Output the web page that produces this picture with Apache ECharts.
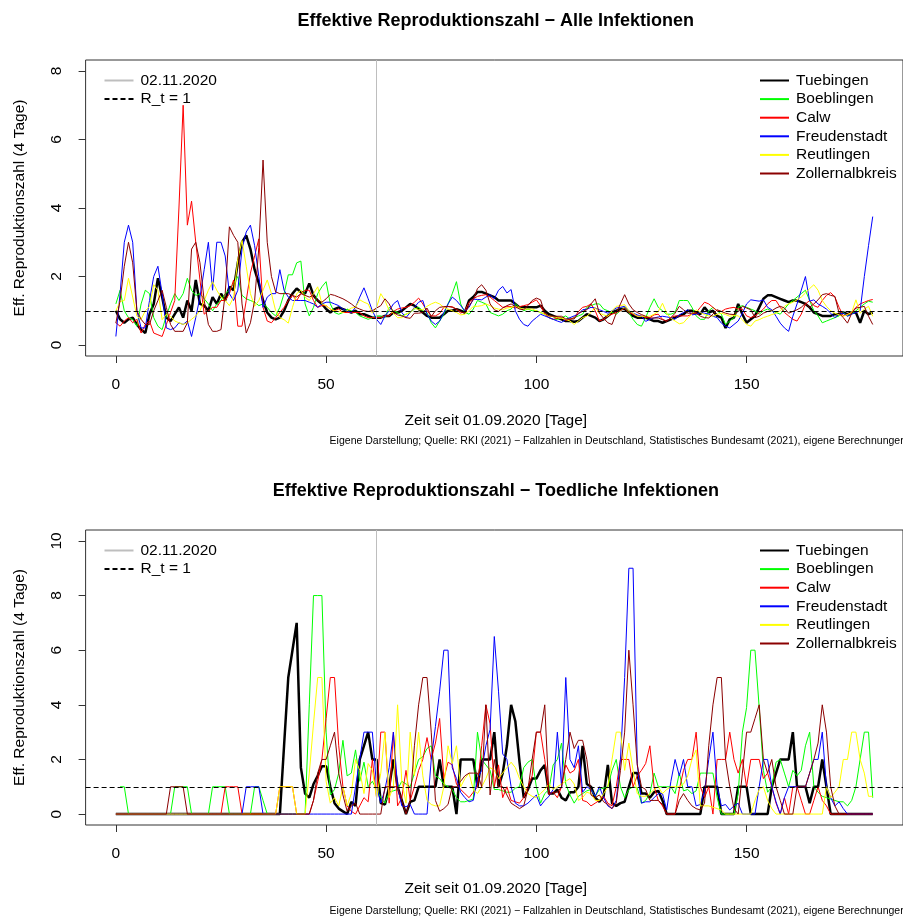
<!DOCTYPE html>
<html><head><meta charset="utf-8">
<script src="https://cdn.jsdelivr.net/npm/echarts@6/dist/echarts.min.js"></script>
<style>html,body{margin:0;padding:0;background:#fff}#c{width:903px;height:917px}</style>
</head><body><div id="c"></div>
<script>
// ---------- data ----------
const regions = ['Tuebingen','Boeblingen','Calw','Freudenstadt','Reutlingen','Zollernalbkreis'];
const regionColors = ['#000000','#00FF00','#FF0000','#0000FF','#FFFF00','#8B0000'];
const regionWidths = [2.5,1,1,1,1,1];
const xTicks = [0,50,100,150];
const yTicksTop = [0,2,4,6,8];
const yTicksBottom = [0,2,4,6,8,10];
const markerDay = 62;   // 02.11.2020
const markerLabel = '02.11.2020';
const refLabel = 'R_t = 1';
const refValue = 1;

// Top panel: all infections (day 0..180)
const allTuebingen = [
1.0,0.75,0.65,0.75,0.8,0.6,0.45,0.35,0.9,1.2,
1.95,1.4,0.8,0.7,0.9,1.1,0.8,1.3,1.0,1.9,
1.2,1.15,1.0,1.4,1.2,1.5,1.3,1.7,1.6,2.4,
3.0,3.2,2.8,2.2,1.8,1.3,0.95,0.8,0.75,0.8,
1.0,1.3,1.5,1.65,1.55,1.5,1.8,1.45,1.3,1.2,
1.05,0.95,1.05,1.1,1.05,1.0,0.95,1.0,0.9,0.9,
0.85,0.8,0.8,0.8,0.85,0.85,0.95,0.95,1.0,1.1,
1.2,1.15,1.05,0.95,0.85,0.8,0.8,0.8,0.9,1.0,
1.0,1.05,1.0,0.95,1.3,1.4,1.55,1.55,1.5,1.45,
1.4,1.3,1.3,1.3,1.3,1.2,1.1,1.1,1.1,1.1,
1.1,1.15,1.0,0.9,0.85,0.8,0.75,0.7,0.7,0.68,
0.7,0.8,0.9,0.85,0.8,0.7,0.75,0.85,0.95,1.0,
1.05,1.05,0.95,0.85,0.8,0.8,0.8,0.75,0.7,0.7,
0.65,0.7,0.75,0.8,0.85,0.9,1.0,1.0,0.95,0.9,
1.1,0.95,1.0,0.85,0.8,0.5,0.75,0.8,1.2,0.9,
0.65,0.75,0.85,1.1,1.35,1.45,1.45,1.4,1.35,1.3,
1.25,1.3,1.3,1.25,1.2,1.1,0.95,0.9,0.85,0.85,
0.85,0.9,0.9,0.95,0.9,0.95,0.95,0.65,1.0,0.9,
0.95];
const allBoeblingen = [
1.2,1.6,1.0,0.8,0.75,0.55,1.2,1.6,1.5,0.8,
0.55,0.45,0.85,1.2,1.5,1.3,1.5,1.95,1.6,1.45,
1.5,1.35,1.2,1.0,1.2,1.3,1.5,1.6,1.8,2.0,
1.45,1.35,1.3,1.25,1.15,1.2,1.1,0.95,0.85,1.1,
1.5,2.05,2.05,2.4,2.45,1.2,0.85,1.1,1.5,1.7,
1.85,1.2,0.95,0.9,0.95,1.05,1.0,0.95,0.85,0.8,
0.75,0.8,0.85,0.85,0.8,1.1,1.0,0.95,0.85,0.9,
0.95,1.05,1.1,1.0,0.95,0.65,0.5,0.7,0.9,1.2,
1.5,1.85,1.2,0.95,0.9,1.05,1.3,1.25,1.2,0.95,
0.9,0.85,0.9,1.0,1.05,1.2,1.1,1.0,1.05,1.0,
1.0,0.95,0.9,0.8,0.75,0.75,0.8,0.85,0.75,0.8,
0.85,0.9,1.1,1.15,1.2,1.2,1.05,1.0,0.95,0.9,
1.0,1.1,0.95,0.75,0.6,0.55,0.8,1.1,1.35,1.1,
1.0,0.9,0.9,0.95,1.3,1.3,1.3,1.1,0.85,0.75,
0.75,1.0,1.1,1.0,0.9,0.6,0.7,0.8,1.1,1.15,
1.1,1.05,1.0,0.9,1.0,1.05,1.0,0.95,0.9,1.05,
1.2,1.3,1.4,1.5,1.6,1.3,1.0,0.85,0.65,0.7,
0.75,0.8,0.85,0.95,0.85,0.9,1.0,1.1,1.2,1.28,
1.25];
const allCalw = [
0.65,0.55,0.7,0.8,0.65,0.75,0.35,0.6,0.7,0.35,
0.3,0.25,0.6,0.95,1.3,4.0,7.0,3.5,4.2,3.0,
1.9,0.9,1.0,1.1,1.1,1.3,1.3,1.5,1.9,0.55,
0.55,1.3,2.1,2.6,3.1,1.1,0.7,0.65,0.8,0.95,
1.1,1.3,1.45,1.3,1.5,1.6,1.6,1.3,1.1,1.15,
1.15,1.05,1.0,1.05,0.95,0.95,0.95,0.95,0.95,0.85,
0.8,0.8,0.8,0.8,0.85,0.85,0.98,1.05,1.08,1.1,
1.15,1.25,1.37,1.2,1.0,0.85,0.85,0.92,1.1,1.12,
1.12,1.05,0.93,1.0,1.25,1.35,1.42,1.45,1.47,1.4,
1.3,1.2,1.1,1.12,1.12,1.08,1.12,1.15,1.18,1.25,
1.32,1.15,0.9,0.8,0.75,0.78,0.8,0.72,0.75,0.8,
0.98,1.1,1.13,1.2,1.0,0.7,0.75,0.85,0.9,0.95,
1.0,1.08,0.95,0.9,0.85,0.85,0.8,0.8,0.88,0.9,
0.75,0.7,0.8,0.85,0.85,0.85,0.85,0.9,0.95,1.1,
1.25,1.2,1.1,1.0,0.98,1.05,1.08,1.1,1.05,1.05,
0.85,0.8,0.85,0.95,1.05,1.2,1.3,1.3,1.1,0.95,
0.85,0.75,0.7,0.9,1.2,1.3,1.15,1.1,1.3,1.45,
1.53,1.4,1.1,0.85,0.9,0.95,1.1,1.2,1.25,1.3,
1.33];
const allFreudenstadt = [
0.25,1.5,3.0,3.5,3.0,1.0,0.5,0.5,1.3,2.0,
2.3,1.5,0.5,0.45,0.5,0.65,0.6,0.7,0.25,0.8,
1.4,2.2,3.0,1.6,3.0,3.0,2.6,1.5,1.3,1.6,
2.8,3.3,3.5,2.9,2.0,1.1,1.4,1.5,1.5,2.2,
1.6,1.4,1.3,1.3,1.3,1.3,1.25,1.2,1.1,1.2,
1.25,1.25,1.2,1.15,1.05,1.0,0.95,1.1,1.4,1.67,
1.35,1.0,0.75,0.6,0.85,1.0,1.2,1.3,0.95,0.8,
0.95,1.1,1.25,1.3,0.9,0.7,0.6,0.7,0.95,1.2,
1.4,1.3,1.15,1.0,1.1,1.34,1.33,1.32,1.4,1.47,
1.35,1.6,1.71,1.52,1.62,1.0,0.75,0.6,0.55,0.7,
0.8,0.9,0.85,0.8,0.75,0.7,0.66,0.75,0.8,0.85,
0.9,1.03,1.05,1.1,1.08,1.03,0.98,0.93,1.0,1.08,
1.1,1.13,1.0,0.93,0.88,0.84,0.69,0.75,0.79,0.82,
0.84,0.82,0.8,0.75,0.88,0.95,1.03,0.88,0.9,0.95,
0.93,0.9,0.84,0.8,0.64,0.55,0.5,0.6,0.7,0.93,
1.2,1.32,1.3,1.28,1.32,1.1,1.03,0.84,0.64,0.5,
0.4,0.84,1.2,1.6,2.0,1.28,1.32,1.2,1.13,1.05,
0.93,0.8,0.9,0.93,0.84,0.9,0.95,1.0,2.0,2.9,
3.75];
const allReutlingen = [
1.0,1.27,1.3,1.95,1.4,0.84,0.75,1.0,1.13,1.76,
1.6,0.74,0.9,0.84,0.7,0.65,0.6,0.65,0.75,0.85,
1.0,1.3,1.6,1.85,1.6,1.4,1.3,1.15,1.4,2.5,
3.05,2.3,1.5,1.13,1.3,1.6,1.9,1.5,1.0,0.8,
0.74,0.64,1.1,1.5,1.6,1.4,1.3,1.5,1.7,1.2,
1.15,1.05,1.0,0.98,0.95,1.0,1.08,1.1,1.32,1.25,
1.2,0.93,1.1,1.5,1.3,1.0,0.93,0.8,0.8,0.9,
0.95,1.08,1.03,1.03,1.13,1.2,1.25,1.2,1.1,1.05,
1.0,0.95,0.88,0.9,1.0,1.13,1.13,1.15,1.2,1.15,
1.08,1.05,1.03,1.08,1.1,1.13,1.08,1.05,1.05,1.05,
1.0,0.95,0.9,0.85,0.83,0.8,0.78,0.75,0.7,0.6,
0.7,0.8,0.84,0.95,1.1,0.93,0.88,0.84,1.0,1.13,
1.15,1.18,1.0,0.93,0.84,0.84,0.84,0.84,0.9,0.98,
1.22,0.93,0.78,0.7,0.62,0.65,0.79,0.9,1.03,0.95,
0.89,0.85,0.84,0.9,0.93,0.89,0.84,0.86,0.85,0.74,
0.6,0.55,0.7,0.74,0.8,0.84,0.89,0.93,1.0,1.13,
1.2,1.25,1.32,1.4,1.52,1.65,1.76,1.6,1.3,1.13,
1.0,0.93,0.88,0.84,0.89,0.95,1.32,0.93,1.05,1.13,
0.84];
const allZollernalbkreis = [
0.64,1.3,2.3,3.0,2.4,1.0,0.75,0.6,0.6,1.0,
1.3,1.6,1.1,0.6,0.4,0.4,0.4,0.65,2.8,3.0,
2.4,1.3,0.6,0.4,0.4,0.45,1.5,3.45,3.2,3.0,
1.2,0.35,0.65,1.3,2.85,5.4,3.0,2.0,1.55,1.5,
1.5,1.5,1.45,1.4,1.5,1.45,1.4,1.45,1.3,1.25,
1.35,1.48,1.45,1.4,1.35,1.28,1.2,1.1,1.05,1.0,
0.98,1.0,1.08,1.15,1.35,1.2,0.95,0.88,0.85,0.8,
0.78,0.93,0.93,0.95,1.08,0.83,1.0,1.1,1.12,1.13,
1.1,1.05,0.98,0.93,1.15,1.32,1.65,1.76,1.6,1.2,
1.03,0.98,1.08,1.15,1.2,1.12,1.05,1.03,1.15,1.3,
1.37,1.32,0.93,0.85,0.84,0.84,0.84,0.76,0.76,0.76,
0.93,0.98,1.03,1.2,1.35,0.93,0.78,0.65,0.6,0.93,
1.2,1.47,1.2,1.03,0.95,0.89,0.84,0.79,0.79,0.79,
0.74,0.69,0.8,0.93,1.13,1.03,0.93,0.93,0.93,0.84,
0.8,0.79,0.9,1.03,0.98,0.93,0.9,0.89,0.98,1.13,
1.08,1.03,0.8,0.84,0.93,0.98,1.0,1.08,1.13,1.08,
0.93,0.98,1.03,1.1,1.22,1.1,1.2,1.32,1.47,1.5,
1.45,1.42,0.93,0.8,0.64,0.93,1.08,1.1,1.13,0.84,
0.6];

// Bottom panel: fatal infections (day 0..180)
const fatTuebingen = [
0,0,0,0,0,0,0,0,0,0,
0,0,0,0,0,0,0,0,0,0,
0,0,0,0,0,0,0,0,0,0,
0,0,0,0,0,0,0,0,0,0,
2.5,5.0,6.0,7.0,1.7,0.75,0.6,1.1,1.4,1.75,
1.75,1.0,0.4,0.2,0.1,0,0.45,0.3,2.0,2.5,
3.0,2.0,2.0,0.4,0.35,1.0,2.0,1.0,0.5,0,
0.45,0.5,1.0,1.0,1.0,1.0,1.0,2.0,1.0,1.0,
1.0,0,2.0,2.0,2.0,2.0,1.0,2.0,2.0,2.0,
3.0,1.0,1.5,2.5,4.0,3.4,1.9,0.6,0.9,1.3,
1.3,1.6,1.8,0.75,0.75,0.9,0.6,0.5,0.8,0.8,
1.0,2.5,1.1,1.0,0.6,0.45,0.65,1.8,0.4,0.3,
0.4,0.45,1.0,1.5,1.5,0.75,0.75,0.6,0.8,0.85,
0.5,0,0,0,0,0,0,0,0,0,
1,1,1,1,0,0,0,0,1,1,
1,0,0,0,0,0,1,1.5,2,2,
2,3,1,1,1,0.4,1,1,2,1,
0,0,0,0,0,0,0,0,0,0,
0];
const fatBoeblingen = [
null,1,1,0,0,0,0,0,0,0,
0,0,0,0,1,1,1,1,0,0,
0,0,0,1,1,1,1,0,0,0,
0,0,0,1,1,0.5,0,0,0,0,
0,0,0,0,0,0,4,8,8,8,
3.0,0.7,0.9,1.5,2.7,1.4,1.5,2.35,1.2,1.9,
1.0,1.2,0.9,0.6,0.4,0.8,0.85,0.9,1.2,1.1,
1.0,1.5,2.0,2.1,2.4,2.5,1.4,1.3,1.1,1.0,
0.9,0.6,0.45,0.45,0.5,0.55,3.0,2.0,1.8,1.6,
0.9,0.9,0.85,0.8,0.8,0.95,1.0,1.7,1.9,2.0,
1.0,0.4,0.75,0.9,1.8,2.0,2.6,1.1,0.7,0.4,
0.65,0.75,0.85,0.9,0.65,0.9,0.95,1.0,1.6,2.0,
1.0,0.6,0.9,1.0,0.95,0.4,0.5,0.75,1.5,1.0,
1.0,1.0,1.0,0.75,1.5,0.85,0.9,0.75,0.85,1.5,
1.5,1.5,1.5,0.6,0,0,0,0,0.75,3.0,
3.9,6.0,6.0,3.9,1.6,0.8,1.0,1.9,2.0,1.5,
1.0,1.6,1.4,1.6,2.5,3.0,1.0,0.8,0.65,0.6,
0.55,0.5,0.45,0.45,0.3,0.5,1.0,2.0,3.0,3.0,
0.6];
const fatCalw = [
0,0,0,0,0,0,0,0,0,0,
0,0,0,0,0,0,0,0,0,0,
0,0,0,0,0,0,1,1,1,1,
0,0,0,0,0,0,0,0,0,1,
1,1,1,0,0,0,0,0.5,1.2,2.0,
3.5,5,5,2.5,1.0,0.3,0.1,0,0.3,0.6,
0.45,2.0,0.6,3.0,3.0,0.4,3.0,0.3,0.6,1.6,
0.5,1.0,1.6,2.0,2.8,2.0,2.6,3.5,1.3,1.9,
1.8,1.1,0.9,0.75,0.6,0.8,1.0,2.5,4.0,3.3,
1.0,1.8,0.6,1.0,0.5,0.45,0.4,0.6,1.0,1.4,
3.0,3.0,2.0,0.75,0.8,0.6,1.0,1.8,1.5,1.6,
2.0,0.5,0.45,0.3,0.4,0.5,0.65,0.4,0.3,1.0,
2.0,2.0,2.0,1.0,1.4,1.6,1.85,2.5,1.0,0.5,
0.3,0,0,0,0.9,1.6,2.0,2.0,3.0,1.0,
0.6,1.0,0,2.0,2.0,2.0,3.0,2.0,1.5,2.0,
1.0,2.0,2.0,2.0,1.3,1.5,1.0,0.4,0,0.6,
0,1.0,1.0,0.5,0,0,0.5,1.0,0.5,0.3,
0,0,0,0,0,0,0,0,0,0,
0];
const fatFreudenstadt = [
0,0,0,0,0,0,0,0,0,0,
0,0,0,0,0,0,0,0,0,0,
0,0,0,0,0,0,0,0,0,0,
0,1,1,1,1,0,0,0,0,0,
0,0,0,0,0,0,0,0,0,0,
0,0,0,0,0,0,0,1,2.0,3,
3,3,1.0,0.4,0.9,1.7,3.0,1.0,0.3,0.27,
0.35,0,0,0,0,2.0,3.2,4.5,6.0,6.0,
1.7,1.3,0.8,0.6,0.45,0.5,1.3,1.6,2.5,3.1,
6.5,4.5,2.2,2.0,1.0,0.4,0.3,0.3,0.4,0.55,
0.7,0.3,0.5,0.65,0.9,3.0,1.0,5.0,2.0,1.7,
2.5,0.8,1.0,0.9,0.65,1.0,0.6,0.3,0.2,0.5,
2.0,5.0,9.0,9.0,1.85,0.4,0.45,0.45,0.6,0.75,
0.75,0.15,1.2,2.0,1.4,2.0,1.0,1.0,0.3,0.35,
0.85,2.0,3.0,1.0,0.3,0.35,0.15,0.3,0.4,0,
0,0,0,1.0,2.0,2.0,1.0,0.45,0,0.6,
1.0,1.0,1.0,1.0,1.0,1.5,2.0,2.0,3.0,1.0,
0.6,0.3,0.45,0.2,0,0,0,0,0,0,
0];
const fatReutlingen = [
0,0,0,0,0,0,0,0,0,0,
0,0,0,0,0,0,0,0,0,0,
0,0,0,0,0,0,0,0,0,0,
0,0,0,0,0,0,0,0,0,1,
1,1,1,0,0,0,1.5,3.3,5,5,
1.2,0.4,0.6,0.3,1.0,0.3,0.75,2.0,1.6,0.75,
1.85,1.6,0.6,1.5,3.0,0.6,1.0,4.0,1.2,0.4,
3.0,1.4,3.0,1.4,0.5,0.35,0.3,0.3,1.0,2.5,
1.85,2.5,1.0,1.3,1.5,0.9,0.75,1.0,1.3,1.7,
1.6,1.3,1.5,1.7,1.9,1.7,1.3,1.0,0.75,0.65,
0.6,0.75,0.9,1.1,0.9,1.0,1.1,1.2,1.3,1.1,
0.5,0.6,0.8,0.75,0.5,0.5,0.75,1.0,2.0,3.0,
3.0,1.6,2.6,1.6,0.75,0.65,0.65,0.75,0.9,1.0,
0.75,0.9,1.0,1.0,1.0,1.1,1.4,2.0,2.35,0.3,
0.3,0.3,0.25,0.2,0.15,0,0,0,0,0,
0,0,0.5,0.9,1.0,0.5,0.2,0,0,0,
0,0,0,0,0,0,0,0,0,1.0,
0.6,0.8,1.0,2.0,2.0,3.0,3.0,2.0,1.5,0.65,
0.65];
const fatZollernalbkreis = [
0,0,0,0,0,0,0,0,0,0,
0,0,0,1,1,1,1,0,0,0,
0,0,0,0,0,0,0,0,0,0,
0,0,0,0,0,0,0,0,0,0,
0,0,0,0,0,0,0,0.5,1.5,2.0,
2.0,2.5,3.0,1.5,0.7,0.1,0.3,0.4,0,0,
0,0,0,0,1.0,1.0,1.0,1.0,0.5,0,
0.5,2.5,4.0,5.0,5.0,3.0,0.5,0.1,0.2,0.35,
1.0,1.0,1.2,1.4,1.5,1.5,1.5,1.0,4.0,0.7,
2.0,1.0,1.0,0.7,0.4,0.3,0.2,0.3,0.9,2.0,
3.0,3.0,4.0,0.7,0.8,0.8,1.0,2.0,3.0,2.4,
2.7,2.7,2.0,0.7,0.6,0.7,0.45,0.35,0.2,0.4,
1.6,3.0,6.0,4.0,1.8,1.0,0.9,0.5,0.5,0.5,
0.35,0,0,0,0.5,0.75,0.5,0.3,0.2,0.15,
0.4,2.5,4.0,5.0,5.0,2.0,1.0,0.2,0,1.5,
3.0,3.0,3.5,4.0,2.0,1.5,2.0,1.0,0.5,0,
0,0,1.0,1.0,1.0,1.5,2.0,2.6,4.0,3.0,
1.0,0.3,0,0,0,0,0,0,0,0,
0];

const titleTop = 'Effektive Reproduktionszahl \u2212 Alle Infektionen';
const titleBottom = 'Effektive Reproduktionszahl \u2212 Toedliche Infektionen';
const xName = 'Zeit seit 01.09.2020 [Tage]';
const yName = 'Eff. Reproduktionszahl (4 Tage)';
const caption = 'Eigene Darstellung; Quelle: RKI (2021) \u2212 Fallzahlen in Deutschland, Statistisches Bundesamt (2021), eigene Berechnungen';

const topData = [allTuebingen, allBoeblingen, allCalw, allFreudenstadt, allReutlingen, allZollernalbkreis];
const bottomData = [fatTuebingen, fatBoeblingen, fatCalw, fatFreudenstadt, fatReutlingen, fatZollernalbkreis];

// ---------- layout ----------
const FONT = "'Liberation Sans', Arial, Helvetica, sans-serif";
const BOX_L = 85.6, BOX_W = 820.4;
const panels = [
  {top: 60, height: 296, ymin: -0.32, ymax: 8.32, ticks: yTicksTop, data: topData, title: titleTop, titleY: 21, xNameY: 421, capY: 441},
  {top: 530, height: 295, ymin: -0.4, ymax: 10.4, ticks: yTicksBottom, data: bottomData, title: titleBottom, titleY: 491, xNameY: 889, capY: 911}
];
const AX = '#333';

const grid = [], xAxis = [], yAxis = [], series = [], legend = [], graphic = [];
panels.forEach((p, k) => {
  grid.push({left: BOX_L, top: p.top, width: BOX_W, height: p.height, show: true,
    borderColor: AX, borderWidth: 1, backgroundColor: 'transparent'});
  xAxis.push({gridIndex: k, type: 'value', min: -7.2, max: 187.2,
    axisLine: {show: false, onZero: false}, splitLine: {show: false},
    axisTick: {show: true, length: 7, customValues: xTicks, lineStyle: {color: AX}},
    axisLabel: {customValues: xTicks, margin: 21, fontSize: 15.5, color: '#000', fontFamily: FONT}});
  yAxis.push({gridIndex: k, type: 'value', min: p.ymin, max: p.ymax,
    axisLine: {show: false, onZero: false}, splitLine: {show: false},
    axisTick: {show: true, length: 7, customValues: p.ticks, lineStyle: {color: AX}},
    axisLabel: {customValues: p.ticks, margin: 21, fontSize: 15.5, color: '#000', rotate: 90, fontFamily: FONT}});
  regions.forEach((name, i) => {
    series.push({name, type: 'line', xAxisIndex: k, yAxisIndex: k,
      data: p.data[i].map((v, d) => [d, v]),
      symbol: 'none', connectNulls: false, silent: true,
      lineStyle: {color: regionColors[i], width: regionWidths[i]},
      itemStyle: {color: regionColors[i]}, emphasis: {disabled: true}});
  });
  series.push({name: markerLabel, type: 'line', xAxisIndex: k, yAxisIndex: k, data: [],
    symbol: 'none', lineStyle: {color: '#BEBEBE', width: 1}, itemStyle: {color: '#BEBEBE'},
    markLine: {silent: true, symbol: 'none', label: {show: false},
      lineStyle: {color: '#BEBEBE', width: 1, type: 'solid'}, data: [{xAxis: markerDay}]}});
  series.push({name: refLabel, type: 'line', xAxisIndex: k, yAxisIndex: k, data: [],
    symbol: 'none', lineStyle: {color: '#000', width: 1, type: [5, 3]}, itemStyle: {color: '#000'},
    markLine: {silent: true, symbol: 'none', label: {show: false},
      lineStyle: {color: '#000', width: 1, type: [5, 3]}, data: [{yAxis: refValue}]}});
  const legCommon = {orient: 'vertical', itemWidth: 29, itemHeight: 10, itemGap: 2.6, selectedMode: false,
    itemStyle: {opacity: 0, borderWidth: 0},
    textStyle: {fontSize: 15.5, lineHeight: 15, color: '#000', fontFamily: FONT, padding: [0, 0, 0, 2]}};
  legend.push(Object.assign({}, legCommon, {data: [markerLabel, refLabel], left: 98.5, top: p.top + 7.5}));
  legend.push(Object.assign({}, legCommon, {data: regions, left: 754, top: p.top + 7.5}));

  graphic.push({type: 'text', x: BOX_L + BOX_W / 2, y: p.titleY,
    style: {text: p.title, font: 'bold 18px ' + FONT, fill: '#000', align: 'center', verticalAlign: 'middle'}});
  graphic.push({type: 'text', x: BOX_L + BOX_W / 2, y: p.xNameY,
    style: {text: xName, font: '15.5px ' + FONT, fill: '#000', align: 'center', verticalAlign: 'middle'}});
  graphic.push({type: 'text', x: 20, y: p.top + p.height / 2, rotation: Math.PI / 2,
    style: {text: yName, font: '15.5px ' + FONT, fill: '#000', align: 'center', verticalAlign: 'middle'}});
  graphic.push({type: 'text', x: BOX_L + BOX_W, y: p.capY,
    style: {text: caption, font: '10.5px ' + FONT, fill: '#000', align: 'right', verticalAlign: 'middle'}});
});

const chart = echarts.init(document.getElementById('c'), null, {renderer: 'canvas'});
chart.setOption({animation: false, backgroundColor: '#fff', textStyle: {fontFamily: FONT},
  grid, xAxis, yAxis, series, legend, graphic});
</script>
</body></html>
